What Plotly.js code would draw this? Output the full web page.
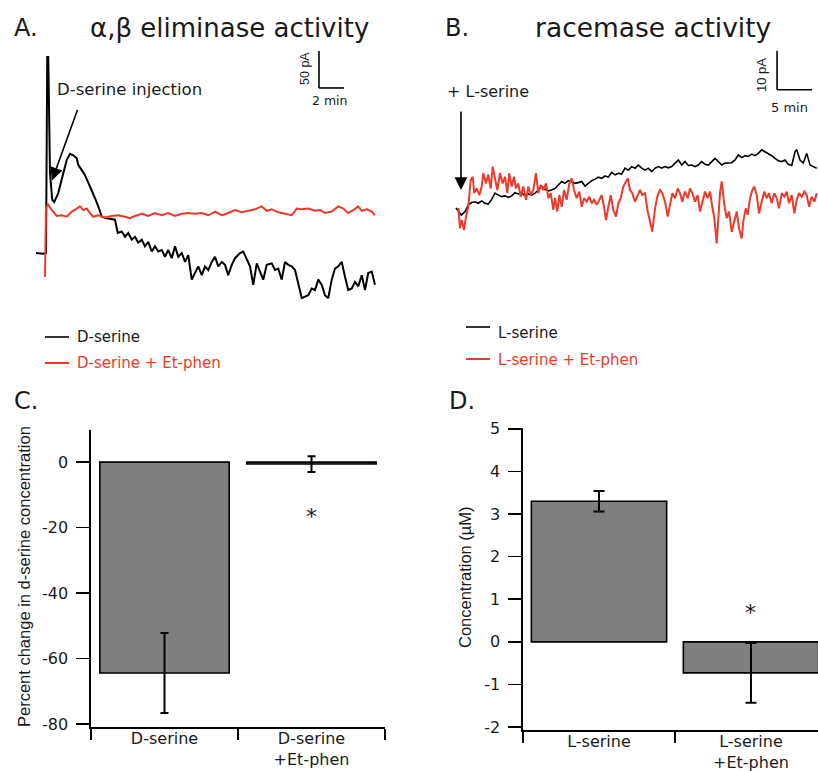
<!DOCTYPE html>
<html>
<head>
<meta charset="utf-8">
<script src="https://cdn.plot.ly/plotly-3.0.1.min.js"></script>
<style>html,body{margin:0;padding:0;background:#fff;overflow:hidden}</style>
</head>
<body>
<div id="chart" style="width:818px;height:771px"></div>
<script>
// ---------- Panel A: alpha,beta eliminase activity (time in min, current in pA) ----------
const aBlackTime = [-0.32,0.24,0.48,0.58,0.66,0.8,0.98,1.14,1.46,1.86,2.14,2.4,2.66,2.94,3.06,3.34,3.6,3.86,4.14,4.4,4.66,4.94,5.34,5.74,6.0,6.22,6.54,6.8,7.06,7.34,7.6,7.86,8.14,8.4,8.66,8.94,9.2,9.46,9.74,10.0,10.26,10.54,10.8,11.06,11.34,11.6,11.86,12.14,12.4,12.66,12.94,13.2,13.46,13.74,14.0,14.26,14.54,14.8,15.06,15.34,15.6,16.0,16.26,16.54,16.8,17.06,17.34,17.6,17.86,18.14,18.54,18.8,19.06,19.34,19.6,19.86,20.14,20.4,20.66,20.94,21.2,21.46,21.74,22.0,22.26,22.54,22.8,23.06,23.34,23.6,23.86,24.14,24.4,24.66,24.94,25.2,25.46,25.74,26.0,26.26,26.54,26.8];
const aBlackCurrent = [0,-1,0,265,265,108,72,69,81,108,126,134,132,128,119,112,105,95,85,74,63,49,47,46,45,27,29,22,27,18,22,14,18,9,15,2,9,2,4,-5,4,-7,9,-5,0,-12,-3,-36,-27,-18,-30,-18,-23,-12,-5,-18,-12,-16,-30,-16,-7,0,2,-9,-18,-43,-14,-25,-36,-16,-14,-23,-21,-36,-12,-16,-18,-23,-41,-61,-59,-57,-48,-50,-36,-43,-57,-61,-36,-21,-18,-12,-32,-50,-48,-39,-45,-30,-50,-27,-25,-43];
const aRedTime = [0.4,0.48,0.66,0.94,1.34,1.74,2.14,2.54,2.94,3.2,3.46,3.74,4.0,4.26,4.66,5.2,5.74,6.26,6.8,7.2,7.6,8.14,8.66,9.2,9.74,10.26,10.8,11.34,11.86,12.4,12.94,13.46,14.0,14.54,15.06,15.6,16.14,16.66,17.2,17.74,18.14,18.54,19.06,19.6,20.14,20.54,20.94,21.46,22.0,22.4,22.8,23.34,23.86,24.26,24.66,25.06,25.46,25.74,26.14,26.54,26.8];
const aRedCurrent = [-32,62,65,58,50,51,49,56,60,63,58,60,54,49,51,48,50,51,49,47,50,53,50,54,51,54,50,53,54,53,54,51,56,51,54,58,55,57,59,63,57,59,55,53,51,60,59,60,57,58,54,56,63,60,54,58,63,57,59,56,51];

// ---------- Panel B: racemase activity (time in min, current in pA) ----------
const bBlackTime = [0,0.47,0.76,1.29,1.76,2.24,2.71,3.19,3.67,4.14,4.61,5.1,5.57,6.04,6.53,7.0,7.47,7.96,8.43,8.9,9.39,9.86,10.33,10.81,11.29,11.76,12.24,12.71,13.19,13.67,14.14,14.61,15.1,15.57,16.04,16.53,17.0,17.47,17.96,18.43,18.9,19.39,19.86,20.33,20.81,21.29,21.76,22.24,22.71,23.19,23.67,24.14,24.61,25.1,25.57,26.04,26.53,27.0,27.47,27.96,28.43,28.9,29.39,29.86,30.33,30.81,31.29,31.76,32.24,32.71,33.19,33.67,34.14,34.61,35.1,35.57,36.04,36.53,37.0,37.47,37.96,38.43,38.9,39.39,39.86,40.33,40.81,41.29,41.76,42.24,42.71,43.19,43.67,44.14,44.61,45.1,45.57,46.04,46.53,47.0,47.47,47.96,48.43,48.67,49.14,49.61,50.1,50.57,51.04,51.53];
const bBlackCurrent = [0,-1,-1.8,-1,0.8,1.4,1.6,1.2,1.8,1.2,1.0,2.2,3.8,3.3,2.9,3.1,2.7,3.1,3.9,3.6,3.8,3.1,3.6,3.3,3.8,4.6,5.6,4.8,4.4,4.6,5.0,5.9,6.8,6.3,7.0,6.8,6.3,6.5,6.8,5.6,6.3,7.0,7.4,7.9,7.6,8.2,7.9,9.1,8.5,8.9,8.7,10.2,9.7,10.6,10.2,11.0,10.2,9.7,10.2,9.3,10.2,10.6,10.2,10.6,10.3,10.6,11.5,12.3,11.0,11.9,10.9,11.0,10.6,11.0,11.9,11.2,11.0,11.9,12.7,11.9,11.0,11.5,11.5,11.6,12.3,13.6,12.9,13.4,13.2,13.8,13.4,14.0,14.9,14.4,14.0,13.4,12.7,12.1,11.9,12.3,11.2,10.9,14.4,14.9,12.3,11.5,14.0,11.0,10.6,10.2];
const bRedTime = [0.33,0.57,0.81,1.14,1.43,1.76,2.1,2.39,2.61,2.96,3.33,3.67,3.9,4.29,4.61,4.96,5.24,5.57,5.9,6.29,6.67,7.0,7.33,7.61,7.96,8.29,8.57,8.9,9.24,9.61,10.0,10.33,10.67,11.04,11.43,11.76,12.1,12.47,12.86,13.19,13.53,13.9,14.14,14.47,14.76,15.1,15.43,15.81,16.19,16.53,16.86,17.24,17.61,17.96,18.29,18.67,19.04,19.39,19.71,20.1,20.47,20.81,21.14,21.43,21.76,22.1,22.47,22.86,23.19,23.53,23.9,24.14,24.53,24.86,25.19,25.57,25.96,26.29,26.61,27.0,27.39,27.71,28.04,28.43,28.81,29.14,29.47,29.86,30.24,30.57,30.9,31.29,31.67,32.0,32.33,32.71,33.1,33.43,33.76,34.14,34.53,34.86,35.19,35.57,35.96,36.29,36.61,36.9,37.24,37.47,37.71,37.96,38.33,38.67,39.0,39.39,39.76,40.1,40.43,40.81,41.04,41.39,41.67,42.0,42.33,42.61,42.96,43.29,43.67,44.04,44.39,44.71,45.1,45.47,45.81,46.14,46.53,46.9,47.24,47.57,47.96,48.33,48.67,49.0,49.39,49.76,50.1,50.43,50.81,51.19,51.53];
const bRedCurrent = [0,-5.2,-3.1,-5.6,-2.2,0.3,7.2,8.0,3.8,5.0,3.3,5.5,8.9,6.3,8.5,5.0,10.6,7.2,4.6,8.9,6.3,8.0,3.8,8.9,5.5,8.0,5.0,6.3,2.9,5.5,2.1,5.5,3.3,4.6,8.9,3.8,5.9,4.6,6.3,2.5,3.8,-0.5,2.5,-0.9,3.3,0.3,4.6,2.1,6.3,7.6,4.6,2.5,4.2,0.3,2.5,1.6,2.9,1.2,2.1,0.8,2.1,3.3,0.3,-3.1,0.3,3.3,-0.5,-2.2,1.2,2.5,5.5,6.3,7.6,4.6,3.8,1.6,3.3,4.6,3.3,3.8,-0.9,-3.5,-6.1,-0.1,3.3,4.6,3.8,1.6,-2.2,0.8,3.8,2.5,5.0,3.8,1.6,4.2,2.5,5.0,3.8,1.6,3.3,-0.9,1.6,4.2,2.5,4.2,0.3,-2.6,-9.1,-3.5,3.8,6.8,0.8,-2.6,-0.9,-6.1,-3.5,-0.9,-5.2,-7.8,-3.5,-0.1,-1.8,2.5,4.6,5.5,3.3,-1.4,1.6,4.2,2.5,3.8,1.2,3.8,2.5,-0.1,3.8,2.9,4.2,1.2,3.3,-1.4,2.1,3.8,2.9,4.2,3.3,0.3,2.9,1.6,3.8];

// ---------- Panel C: percent change in d-serine concentration ----------
const catC = ['D-serine', 'D-serine<br>+Et-phen'];
const valC = [-64.4, -0.6];
const errC = [12.2, 2.4];
const tickValsC = [-80, -60, -40, -20, 0];
const tickTextC = ['-80', '-60', '-40', '-20', '0'];

// ---------- Panel D: L-serine -> D-serine concentration (µM) ----------
const catD = ['L-serine', 'L-serine<br>+Et-phen'];
const valD = [3.3, -0.73];
const errD = [0.24, 0.7];
const tickValsD = [-2, -1, 0, 1, 2, 3, 4, 5];
const tickTextD = ['-2', '-1', '0', '1', '2', '3', '4', '5'];

// ---------- helpers (pixel -> paper) ----------
const W = 818, H = 771;
const X = px => px / W;
const Y = py => 1 - py / H;
const RED = '#ee3a2a';
const TXT = '#1a1a1a';
const SANS = 'DejaVu Sans, sans-serif';
const ARIAL = 'Liberation Sans, Arial, sans-serif';

const traces = [
  {x: aBlackTime, y: aBlackCurrent, xaxis: 'x', yaxis: 'y', type: 'scatter', mode: 'lines',
   line: {color: '#000', width: 2}, name: 'D-serine'},
  {x: aRedTime, y: aRedCurrent, xaxis: 'x', yaxis: 'y', type: 'scatter', mode: 'lines',
   line: {color: RED, width: 2}, name: 'D-serine + Et-phen'},
  {x: bBlackTime, y: bBlackCurrent, xaxis: 'x2', yaxis: 'y2', type: 'scatter', mode: 'lines',
   line: {color: '#000', width: 1.6}, name: 'L-serine'},
  {x: bRedTime, y: bRedCurrent, xaxis: 'x2', yaxis: 'y2', type: 'scatter', mode: 'lines',
   line: {color: RED, width: 2}, name: 'L-serine + Et-phen'},
  {x: catC, y: valC, xaxis: 'x3', yaxis: 'y3', type: 'bar', width: 0.88,
   marker: {color: '#7f7f7f', line: {color: '#000', width: 1.6}},
   error_y: {type: 'data', array: errC, visible: true, color: '#000', thickness: 2, width: 4}},
  {x: catD, y: valD, xaxis: 'x4', yaxis: 'y4', type: 'bar', width: 0.89,
   marker: {color: '#7f7f7f', line: {color: '#000', width: 1.6}},
   error_y: {type: 'data', array: errD, visible: true, color: '#000', thickness: 2, width: 5.5}}
];

const hidden = {visible: false, fixedrange: true};
const barY = {
  showline: true, linecolor: '#000', linewidth: 1.6, ticks: 'outside', ticklen: 13, tickwidth: 1.6,
  tickcolor: '#000', showgrid: false, zeroline: false, tickmode: 'array',
  tickfont: {family: SANS, size: 16, color: TXT}, ticklabelstandoff: 5
};
const barX = {
  type: 'category', showline: true, linecolor: '#000', linewidth: 1.6, ticks: 'outside',
  tickson: 'boundaries', ticklen: 11, tickwidth: 1.6, tickcolor: '#000', showgrid: false,
  tickfont: {family: SANS, size: 16, color: TXT}, ticklabelstandoff: -4
};

// centred text annotation helper
const label = (px, py, text, font, extra) => Object.assign({
  xref: 'paper', yref: 'paper', x: X(px), y: Y(py), xanchor: 'center', yanchor: 'middle',
  showarrow: false, text: text, font: font
}, extra || {});

const layout = {
  width: W, height: H, margin: {l: 0, r: 0, t: 0, b: 0}, showlegend: false,
  paper_bgcolor: '#fff', plot_bgcolor: 'rgba(0,0,0,0)',
  xaxis:  Object.assign({}, hidden, {anchor: 'y', domain: [X(36), X(380)], range: [-0.32, 27.2]}),
  yaxis:  Object.assign({}, hidden, {anchor: 'x', domain: [Y(300), Y(50)], range: [-63.5, 274.3]}),
  xaxis2: Object.assign({}, hidden, {anchor: 'y2', domain: [X(450), 1], range: [-0.857, 51.71]}),
  yaxis2: Object.assign({}, hidden, {anchor: 'x2', domain: [Y(300), Y(50)], range: [-23.6, 40.5]}),
  xaxis3: Object.assign({}, barX, {anchor: 'y3', domain: [X(91), X(385)], range: [-0.5, 1.5]}),
  yaxis3: Object.assign({}, barY, {anchor: 'x3', domain: [Y(727), Y(430)], range: [-80.9, 9.8],
           tickvals: tickValsC, ticktext: tickTextC}),
  xaxis4: Object.assign({}, barX, {anchor: 'y4', domain: [X(523), 1], range: [-0.5, 1.441]}),
  yaxis4: Object.assign({}, barY, {anchor: 'x4', domain: [Y(730), Y(428)], range: [-2.07, 5.02],
           tickvals: tickValsD, ticktext: tickTextD}),
  shapes: [
    // scale bar A: 50 pA / 2 min
    {type: 'line', xref: 'x', yref: 'y', x0: 22.32, x1: 22.32, y0: 223, y1: 273, line: {color: '#000', width: 1.6}},
    {type: 'line', xref: 'x', yref: 'y', x0: 22.32, x1: 24.32, y0: 223, y1: 223, line: {color: '#000', width: 1.6}},
    // scale bar B: 10 pA / 5 min
    {type: 'line', xref: 'x2', yref: 'y2', x0: 45.86, x1: 45.86, y0: 30.3, y1: 40.3, line: {color: '#000', width: 1.6}},
    {type: 'line', xref: 'x2', yref: 'y2', x0: 45.86, x1: 50.86, y0: 30.3, y1: 30.3, line: {color: '#000', width: 1.6}},
    // legend keys
    {type: 'line', xref: 'paper', yref: 'paper', x0: X(45), x1: X(69), y0: Y(337), y1: Y(337), line: {color: '#000', width: 1.6}},
    {type: 'line', xref: 'paper', yref: 'paper', x0: X(45), x1: X(69), y0: Y(363), y1: Y(363), line: {color: RED, width: 2}},
    {type: 'line', xref: 'paper', yref: 'paper', x0: X(466), x1: X(490), y0: Y(327), y1: Y(327), line: {color: '#000', width: 1.6}},
    {type: 'line', xref: 'paper', yref: 'paper', x0: X(466), x1: X(490), y0: Y(359), y1: Y(359), line: {color: RED, width: 2}}
  ],
  annotations: [
    // panel letters & titles
    label(12, 28, 'A.', {family: SANS, size: 24, color: TXT}, {xanchor: 'left'}),
    label(88, 28, 'α,β eliminase activity', {family: SANS, size: 26, color: TXT}, {xanchor: 'left'}),
    label(443, 28, 'B.', {family: SANS, size: 24, color: TXT}, {xanchor: 'left'}),
    label(533, 28, 'racemase activity', {family: SANS, size: 26.5, color: TXT}, {xanchor: 'left'}),
    label(12, 401, 'C.', {family: SANS, size: 24, color: TXT}, {xanchor: 'left'}),
    label(447, 401, 'D.', {family: SANS, size: 24, color: TXT}, {xanchor: 'left'}),
    // A annotations
    label(55, 89, 'D-serine injection', {family: SANS, size: 16.5, color: TXT}, {xanchor: 'left'}),
    {xref: 'x', yref: 'y', x: 0.96, y: 98, ax: 26, ay: -72, text: '', showarrow: true,
     arrowhead: 2, arrowsize: 1.6, arrowwidth: 1.6, arrowcolor: '#000', standoff: 0},
    label(305, 69, '50 pA', {family: ARIAL, size: 12.5, color: TXT}, {textangle: -90}),
    label(330, 101, '2 min', {family: SANS, size: 12.5, color: TXT}),
    // B annotations
    label(445, 91, '+ L-serine', {family: SANS, size: 16, color: TXT}, {xanchor: 'left'}),
    {xref: 'x2', yref: 'y2', x: 0.71, y: 4.6, ax: 0, ay: -80, text: '', showarrow: true,
     arrowhead: 2, arrowsize: 1.6, arrowwidth: 1.6, arrowcolor: '#000', standoff: 0},
    label(762, 75, '10 pA', {family: ARIAL, size: 13, color: TXT}, {textangle: -90}),
    label(789, 108, '5 min', {family: SANS, size: 13, color: TXT}),
    // legends
    label(75, 337, 'D-serine', {family: SANS, size: 15, color: TXT}, {xanchor: 'left'}),
    label(75, 363, 'D-serine + Et-phen', {family: SANS, size: 15, color: RED}, {xanchor: 'left'}),
    label(496, 333, 'L-serine', {family: SANS, size: 15, color: TXT}, {xanchor: 'left'}),
    label(496, 360, 'L-serine + Et-phen', {family: SANS, size: 15, color: RED}, {xanchor: 'left'}),
    // y-axis titles
    label(24, 577, 'Percent change in d-serine concentration', {family: ARIAL, size: 16.5, color: TXT}, {textangle: -90}),
    label(465, 577, 'Concentration (µM)', {family: ARIAL, size: 16.5, color: TXT}, {textangle: -90}),
    // significance marks
    {xref: 'x3', yref: 'y3', x: catC[1], y: -16.5, showarrow: false, text: '*',
     xanchor: 'center', yanchor: 'middle', font: {family: SANS, size: 22, color: TXT}},
    {xref: 'x4', yref: 'y4', x: catD[1], y: 0.7, showarrow: false, text: '*',
     xanchor: 'center', yanchor: 'middle', font: {family: SANS, size: 22, color: TXT}}
  ]
};

Plotly.newPlot('chart', traces, layout, {displayModeBar: false, staticPlot: true});
</script>
</body>
</html>
